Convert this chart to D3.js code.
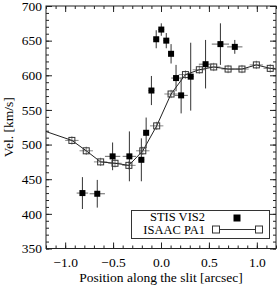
<!DOCTYPE html>
<html>
<head>
<meta charset="utf-8">
<script src="https://cdn.jsdelivr.net/npm/d3@7"></script>
<style>
  body { margin: 0; background: #fff; }
  svg { display: block; }
  svg text { font-family: "Liberation Serif", "DejaVu Serif", serif; }
</style>
</head>
<body>
<div id="chart"></div>
<script>
var svgWidth = 277;
var svgHeight = 287;

var margin = { top: 6, right: 1, bottom: 38.5, left: 46 };
var width = svgWidth - margin.left - margin.right;
var height = svgHeight - margin.top - margin.bottom;

// ISAAC PA1 (open squares + line), first/last points sit outside the frame
var isaacX = [-1.225, -0.93, -0.78, -0.63, -0.48, -0.335, -0.19, -0.045, 0.105, 0.255, 0.40, 0.55, 0.70, 0.845, 0.995, 1.14, 1.285];
var isaacV = [520, 506, 491, 475, 473, 470, 491, 527, 573, 601, 608, 612, 609, 609, 615, 610, 608];
var isaacErrX = 0.07;
var isaacErrV = 6;

// STIS VIS2 (filled squares with error bars)
var stisX = [-0.82, -0.665, -0.505, -0.33, -0.205, -0.155, -0.10, -0.05, 0.003, 0.055, 0.105, 0.157, 0.21, 0.31, 0.465, 0.62, 0.77];
var stisV = [430, 429, 483, 483, 478, 517, 578, 652, 666, 650, 631, 596, 571, 598, 616, 645, 641];
var stisErrV = [23, 20, 20, 36, 31, 22, 21, 13, 9, 11, 14, 19, 26, 49, 35, 30, 10];
var stisErrX = [0.06, 0.08, 0.08, 0.07, 0.03, 0.03, 0.03, 0.03, 0.03, 0.03, 0.03, 0.05, 0.07, 0.03, 0.07, 0.09, 0.08];

var xMajor = [-1.0, -0.5, 0.0, 0.5, 1.0];
var yMajor = [350, 400, 450, 500, 550, 600, 650, 700];

var xMinor = d3.range(-12, 13).map(d => d / 10);
var yMinor = d3.range(350, 701, 10);

var isaac = isaacX.map((x, i) => ({ x: x, v: isaacV[i] }));
var stis = stisX.map((x, i) => ({ x: x, v: stisV[i], ev: stisErrV[i], ex: stisErrX[i] }));

var svg = d3.select("#chart")
  .append("svg")
  .attr("width", svgWidth)
  .attr("height", svgHeight);

var chartGroup = svg.append("g")
  .attr("transform", `translate(${margin.left}, ${margin.top})`);

var x = d3.scaleLinear().domain([-1.2, 1.2]).range([0, width]);
var y = d3.scaleLinear().domain([350, 700]).range([height, 0]);

svg.append("defs").append("clipPath")
  .attr("id", "clip")
  .append("rect")
  .attr("width", width)
  .attr("height", height);

// ticks on all four sides, pointing inward
function addAxis(axisFn, scale, values, size, transform, labels) {
  var g = chartGroup.append("g")
    .attr("transform", transform)
    .call(axisFn(scale).tickValues(values).tickSize(-size).tickPadding(labels ? 9 : 0)
      .tickFormat(labels ? labels : ""));
  g.attr("font-family", null);
  g.select(".domain").remove();
  g.selectAll("line").attr("stroke", "#222");
  return g;
}

addAxis(d3.axisBottom, x, xMinor, 3, `translate(0, ${height})`, null);
addAxis(d3.axisTop, x, xMinor, 3, "translate(0, 0)", null);
addAxis(d3.axisLeft, y, yMinor, 3, "translate(0, 0)", null);
addAxis(d3.axisRight, y, yMinor, 3, `translate(${width}, 0)`, null);
addAxis(d3.axisTop, x, xMajor, 6, "translate(0, 0)", null);
addAxis(d3.axisRight, y, yMajor, 6, `translate(${width}, 0)`, null);

var xAxis = addAxis(d3.axisBottom, x, xMajor, 6, `translate(0, ${height})`, d3.format(".1f"));
xAxis.selectAll("text")
  .attr("font-size", "13.5px")
  .attr("fill", "#000")
  .attr("dy", "0.72em");

var yAxis = addAxis(d3.axisLeft, y, yMajor, 6, "translate(0, 0)", d3.format("d"));
yAxis.selectAll("text")
  .attr("font-size", "13.5px")
  .attr("fill", "#000")
  .attr("x", -4);

chartGroup.append("rect")
  .attr("width", width)
  .attr("height", height)
  .attr("fill", "none")
  .attr("stroke", "#222")
  .attr("stroke-width", 1);

var plot = chartGroup.append("g").attr("clip-path", "url(#clip)");

// ISAAC error bars (gray)
var isaacIn = isaac.filter(d => d.x > -1.2 && d.x < 1.2);
plot.selectAll(".isaac-ex")
  .data(isaacIn)
  .enter()
  .append("line")
  .attr("x1", d => x(d.x - isaacErrX))
  .attr("x2", d => x(d.x + isaacErrX))
  .attr("y1", d => y(d.v))
  .attr("y2", d => y(d.v))
  .attr("stroke", "#888");
plot.selectAll(".isaac-ev")
  .data(isaacIn)
  .enter()
  .append("line")
  .attr("x1", d => x(d.x))
  .attr("x2", d => x(d.x))
  .attr("y1", d => y(d.v - isaacErrV))
  .attr("y2", d => y(d.v + isaacErrV))
  .attr("stroke", "#888");

// ISAAC line
plot.append("path")
  .datum(isaac)
  .attr("fill", "none")
  .attr("stroke", "#222")
  .attr("stroke-width", 1)
  .attr("d", d3.line().x(d => x(d.x)).y(d => y(d.v)));

plot.selectAll(".isaac-pt")
  .data(isaacIn)
  .enter()
  .append("rect")
  .attr("x", d => x(d.x) - 3)
  .attr("y", d => y(d.v) - 3)
  .attr("width", 6)
  .attr("height", 6)
  .attr("fill", "none")
  .attr("stroke", "#333");

// STIS error bars
plot.selectAll(".stis-ev")
  .data(stis)
  .enter()
  .append("line")
  .attr("x1", d => x(d.x))
  .attr("x2", d => x(d.x))
  .attr("y1", d => y(d.v - d.ev))
  .attr("y2", d => y(d.v + d.ev))
  .attr("stroke", "#333");
plot.selectAll(".stis-ex")
  .data(stis)
  .enter()
  .append("line")
  .attr("x1", d => x(d.x - d.ex))
  .attr("x2", d => x(d.x + d.ex))
  .attr("y1", d => y(d.v))
  .attr("y2", d => y(d.v))
  .attr("stroke", "#666");

plot.selectAll(".stis-pt")
  .data(stis)
  .enter()
  .append("rect")
  .attr("x", d => x(d.x) - 3)
  .attr("y", d => y(d.v) - 3)
  .attr("width", 6)
  .attr("height", 6)
  .attr("fill", "#000");

// LEGEND
var legend = svg.append("g");
legend.append("rect")
  .attr("x", 131.5)
  .attr("y", 210.5)
  .attr("width", 138)
  .attr("height", 28)
  .attr("fill", "#fff")
  .attr("stroke", "#333");
legend.append("text")
  .attr("x", 205)
  .attr("y", 221)
  .attr("text-anchor", "end")
  .attr("font-size", "12.5px")
  .text("STIS VIS2");
legend.append("text")
  .attr("x", 205)
  .attr("y", 233.5)
  .attr("text-anchor", "end")
  .attr("font-size", "12.5px")
  .text("ISAAC PA1");
legend.append("rect")
  .attr("x", 233.5)
  .attr("y", 214.5)
  .attr("width", 7)
  .attr("height", 7)
  .attr("fill", "#000");
legend.append("line")
  .attr("x1", 216)
  .attr("x2", 259)
  .attr("y1", 229.5)
  .attr("y2", 229.5)
  .attr("stroke", "#333");
[216, 259].forEach(function(cx) {
  legend.append("rect")
    .attr("x", cx - 3.5)
    .attr("y", 226)
    .attr("width", 7)
    .attr("height", 7)
    .attr("fill", "#fff")
    .attr("stroke", "#333");
});

// AXIS TITLES
svg.append("text")
  .attr("x", margin.left + width / 2)
  .attr("y", 282)
  .attr("text-anchor", "middle")
  .attr("font-size", "13.5px")
  .text("Position along the slit [arcsec]");

svg.append("text")
  .attr("transform", `translate(13, ${margin.top + height / 2}) rotate(-90)`)
  .attr("text-anchor", "middle")
  .attr("font-size", "13.5px")
  .text("Vel. [km/s]");
</script>
</body>
</html>
